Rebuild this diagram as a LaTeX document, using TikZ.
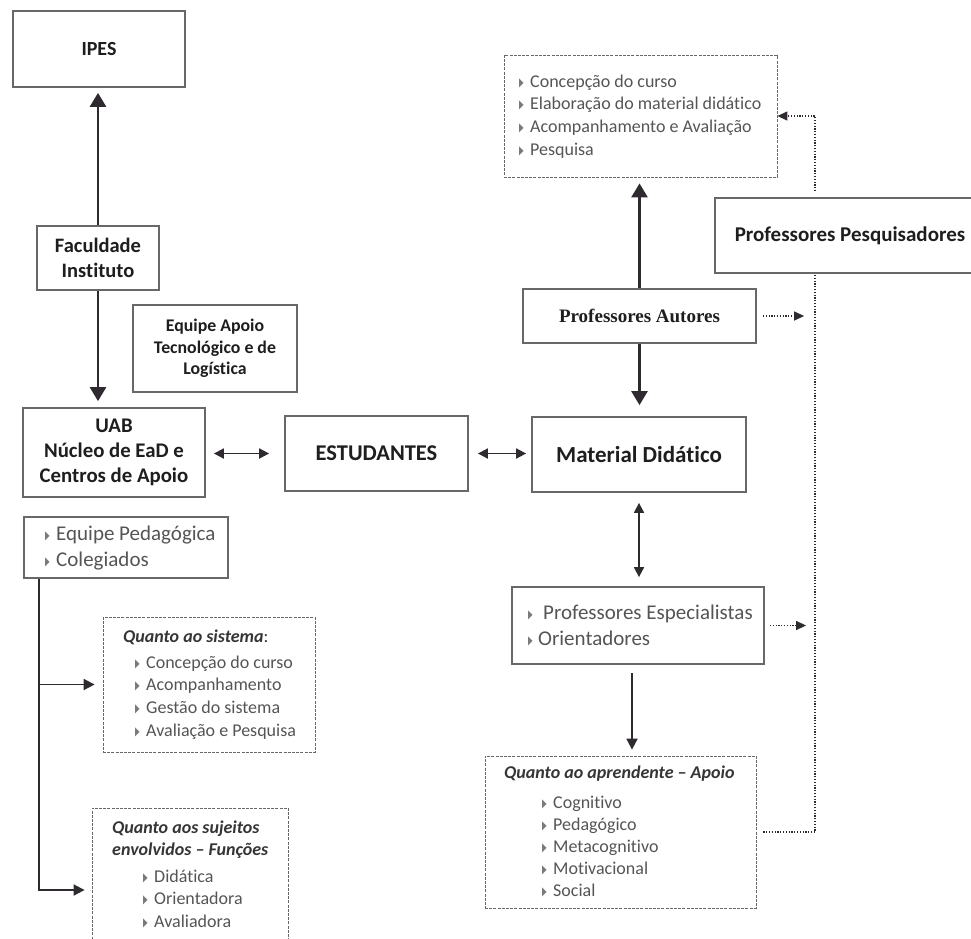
\documentclass[tikz,border=0pt]{standalone}
\usepackage{fontspec}
\usepackage{graphicx}
\setmainfont{Carlito}[Ligatures=NoCommon]
\newfontfamily\timesf{Liberation Serif}
\newfontfamily\dejavu{DejaVu Sans}
\usetikzlibrary{arrows.meta}
\definecolor{boxgray}{HTML}{686868}
\definecolor{txtdark}{HTML}{1E1E1E}
\definecolor{itemgray}{HTML}{555555}
\definecolor{arrowc}{HTML}{2E2A30}
\definecolor{bulgray}{HTML}{7A7A7A}
\newcommand\trig{\textcolor{bulgray}{\raisebox{1pt}{\scalebox{0.5}[1]{\dejavu\fontsize{12}{12}\selectfont ▶}}}}
\newcommand\tri{\makebox[11pt][l]{\trig}}
\begin{document}
\begin{tikzpicture}[x=1pt,y=-1pt,
  solidbox/.style={draw=boxgray, line width=1.8pt, fill=white, inner sep=0pt, align=center, text=txtdark},
  dashbox/.style={draw=boxgray, line width=0.8pt, dash pattern=on 3pt off 1.2pt, inner sep=0pt},
  arr/.style={draw=arrowc, line width=2.6pt, -{Triangle[length=14pt,width=16pt]}},
  arrs/.style={draw=arrowc, line width=1.8pt, -{Triangle[length=11pt,width=11pt]}},
  dbl/.style={draw=arrowc, line width=1.8pt, {Triangle[length=10pt,width=10pt]}-{Triangle[length=10pt,width=10pt]}},
  dotline/.style={draw=arrowc, line width=1.3pt, dash pattern=on 1.2pt off 1.6pt},
  dotarr/.style={dotline, -{Triangle[length=10pt,width=9pt]}},
  item/.style={inner sep=0pt, anchor=base west, text=itemgray, font=\fontsize{18}{22}\selectfont},
  bigitem/.style={inner sep=0pt, anchor=base west, text=itemgray, font=\fontsize{21}{25}\selectfont},
  ttl/.style={inner sep=0pt, anchor=base west, text=txtdark!90, font=\fontsize{18}{22}\selectfont}
]
\useasboundingbox (0,0) rectangle (971,938);
\fill[white] (0,0) rectangle (971,938);

% solid boxes
\node[solidbox, minimum width=172pt, minimum height=76pt, font=\bfseries\fontsize{20}{25}\selectfont] (ipes) at (99,49) {IPES};
\node[solidbox, minimum width=122pt, minimum height=64pt, font=\bfseries\fontsize{20.5}{25}\selectfont] (fac) at (98,258) {Faculdade\\Instituto};
\node[solidbox, minimum width=164pt, minimum height=87pt, font=\bfseries\fontsize{17.8}{21.5}\selectfont] (eqa) at (215,348.5) {Equipe Apoio\\Tecnológico e de\\Logística};
\node[solidbox, minimum width=182pt, minimum height=89pt, font=\bfseries\fontsize{20.8}{25}\selectfont] (uab) at (114,452.5) {UAB\\Núcleo de EaD e\\Centros de Apoio};
\node[solidbox, minimum width=183pt, minimum height=75pt, font=\bfseries\fontsize{22.5}{27}\selectfont] (est) at (376.5,453.5) {ESTUDANTES};
\node[solidbox, minimum width=214pt, minimum height=75pt, font=\bfseries\fontsize{23}{27}\selectfont] (mat) at (639,454.5) {Material Didático};
\node[solidbox, minimum width=233pt, minimum height=54pt, font=\timesf\bfseries\fontsize{19}{23}\selectfont] (aut) at (639.5,316) {Professores Autores};
\node[solidbox, minimum width=270pt, minimum height=75pt, font=\bfseries\fontsize{21}{25}\selectfont] (pp) at (850,235.5) {Professores Pesquisadores};
\node[solidbox, minimum width=204pt, minimum height=61pt] (eqp) at (126,547.5) {};
\node[solidbox, minimum width=252pt, minimum height=77pt] (esp) at (638,625.5) {};

% dashed boxes
\node[dashbox, minimum width=273pt, minimum height=122pt] (top) at (640.5,116) {};
\node[dashbox, minimum width=212pt, minimum height=135pt] (sis) at (209,684.5) {};
\node[dashbox, minimum width=196pt, minimum height=164pt] (suj) at (190,890) {};
\node[dashbox, minimum width=271pt, minimum height=152pt] (apr) at (620.5,832) {};

% list texts
\foreach \t [count=\i from 0] in {Concepção do curso, Elaboração do material didático, Acompanhamento e Avaliação, Pesquisa}
  \node[item] (topi\i) at (519,{87+22.7*\i}) {\tri\t};

\node[bigitem] (eqp1) at (45,540) {\tri Equipe Pedagógica};
\node[bigitem] (eqp2) at (45,566) {\tri Colegiados};

\node[bigitem] (esp1) at (528,619) {\makebox[15pt][l]{\trig}Professores Especialistas};
\node[bigitem] (esp2) at (528,645) {\makebox[10pt][l]{\trig}Orientadores};

\node[ttl] (sist) at (123,642) {{\bfseries\itshape Quanto ao sistema}:};
\foreach \t [count=\i from 0] in {Concepção do curso, Acompanhamento, Gestão do sistema, Avaliação e Pesquisa}
  \node[item] (sisi\i) at (135,{668+22.7*\i}) {\tri\t};

\node[ttl, font=\bfseries\itshape\fontsize{18}{22}\selectfont] (sujt1) at (112,833) {Quanto aos sujeitos};
\node[ttl, font=\bfseries\itshape\fontsize{18}{22}\selectfont] (sujt2) at (112,855) {envolvidos – Funções};
\foreach \t [count=\i from 0] in {Didática, Orientadora, Avaliadora}
  \node[item] (suji\i) at (143,{882+22.5*\i}) {\tri\t};

\node[ttl, font=\bfseries\itshape\fontsize{18}{22}\selectfont] (aprt) at (504,778) {Quanto ao aprendente – Apoio};
\foreach \t [count=\i from 0] in {Cognitivo, Pedagógico, Metacognitivo, Motivacional, Social}
  \node[item] (apri\i) at (542,{808+22.2*\i}) {\tri\t};

% solid connectors
\draw[arr, shorten >=5pt] (fac.north) -- (fac.north |- ipes.south);
\draw[arr, shorten >=6pt] (fac.south) -- (fac.south |- uab.north);
\draw[dbl, shorten <=8pt, shorten >=15pt] (uab.east |- est.west) -- (est.west);
\draw[dbl, shorten <=9pt, shorten >=5pt] (est.east) -- (est.east -| mat.west);
\draw[arr, shorten >=6pt] (aut.north) -- (aut.north |- top.south);
\draw[arr, shorten >=11pt] (aut.south) -- (aut.south |- mat.north);
\draw[dbl, shorten <=10pt, shorten >=9pt] (mat.south) -- (mat.south |- esp.north);
\draw[arrs, shorten <=8pt, shorten >=6pt] ([xshift=-6pt]esp.south) -- ([xshift=-6pt]esp.south |- apr.north);
\draw[arrs, shorten >=8pt] ([xshift=16pt]eqp.south west) |- (sis.west);
\draw[arrs, shorten >=7pt] ([xshift=16pt]eqp.south west) |- (suj.west);

% dotted connectors
\coordinate (va) at ([xshift=101pt]pp.south west |- aut.east);
\coordinate (vb) at ([xshift=101pt]pp.south west |- esp.east);
\draw[dotarr, shorten <=6pt] ([xshift=101pt]pp.north west) |- (top.east);
\draw[dotarr, shorten <=6pt, shorten >=11pt] (aut.east) -- (va);
\draw[dotarr, shorten <=5pt, shorten >=9pt] (esp.east) -- (vb);
\draw[dotline, shorten <=7pt] (apr.east) -| ([xshift=101pt]pp.south west);
\end{tikzpicture}
\end{document}
